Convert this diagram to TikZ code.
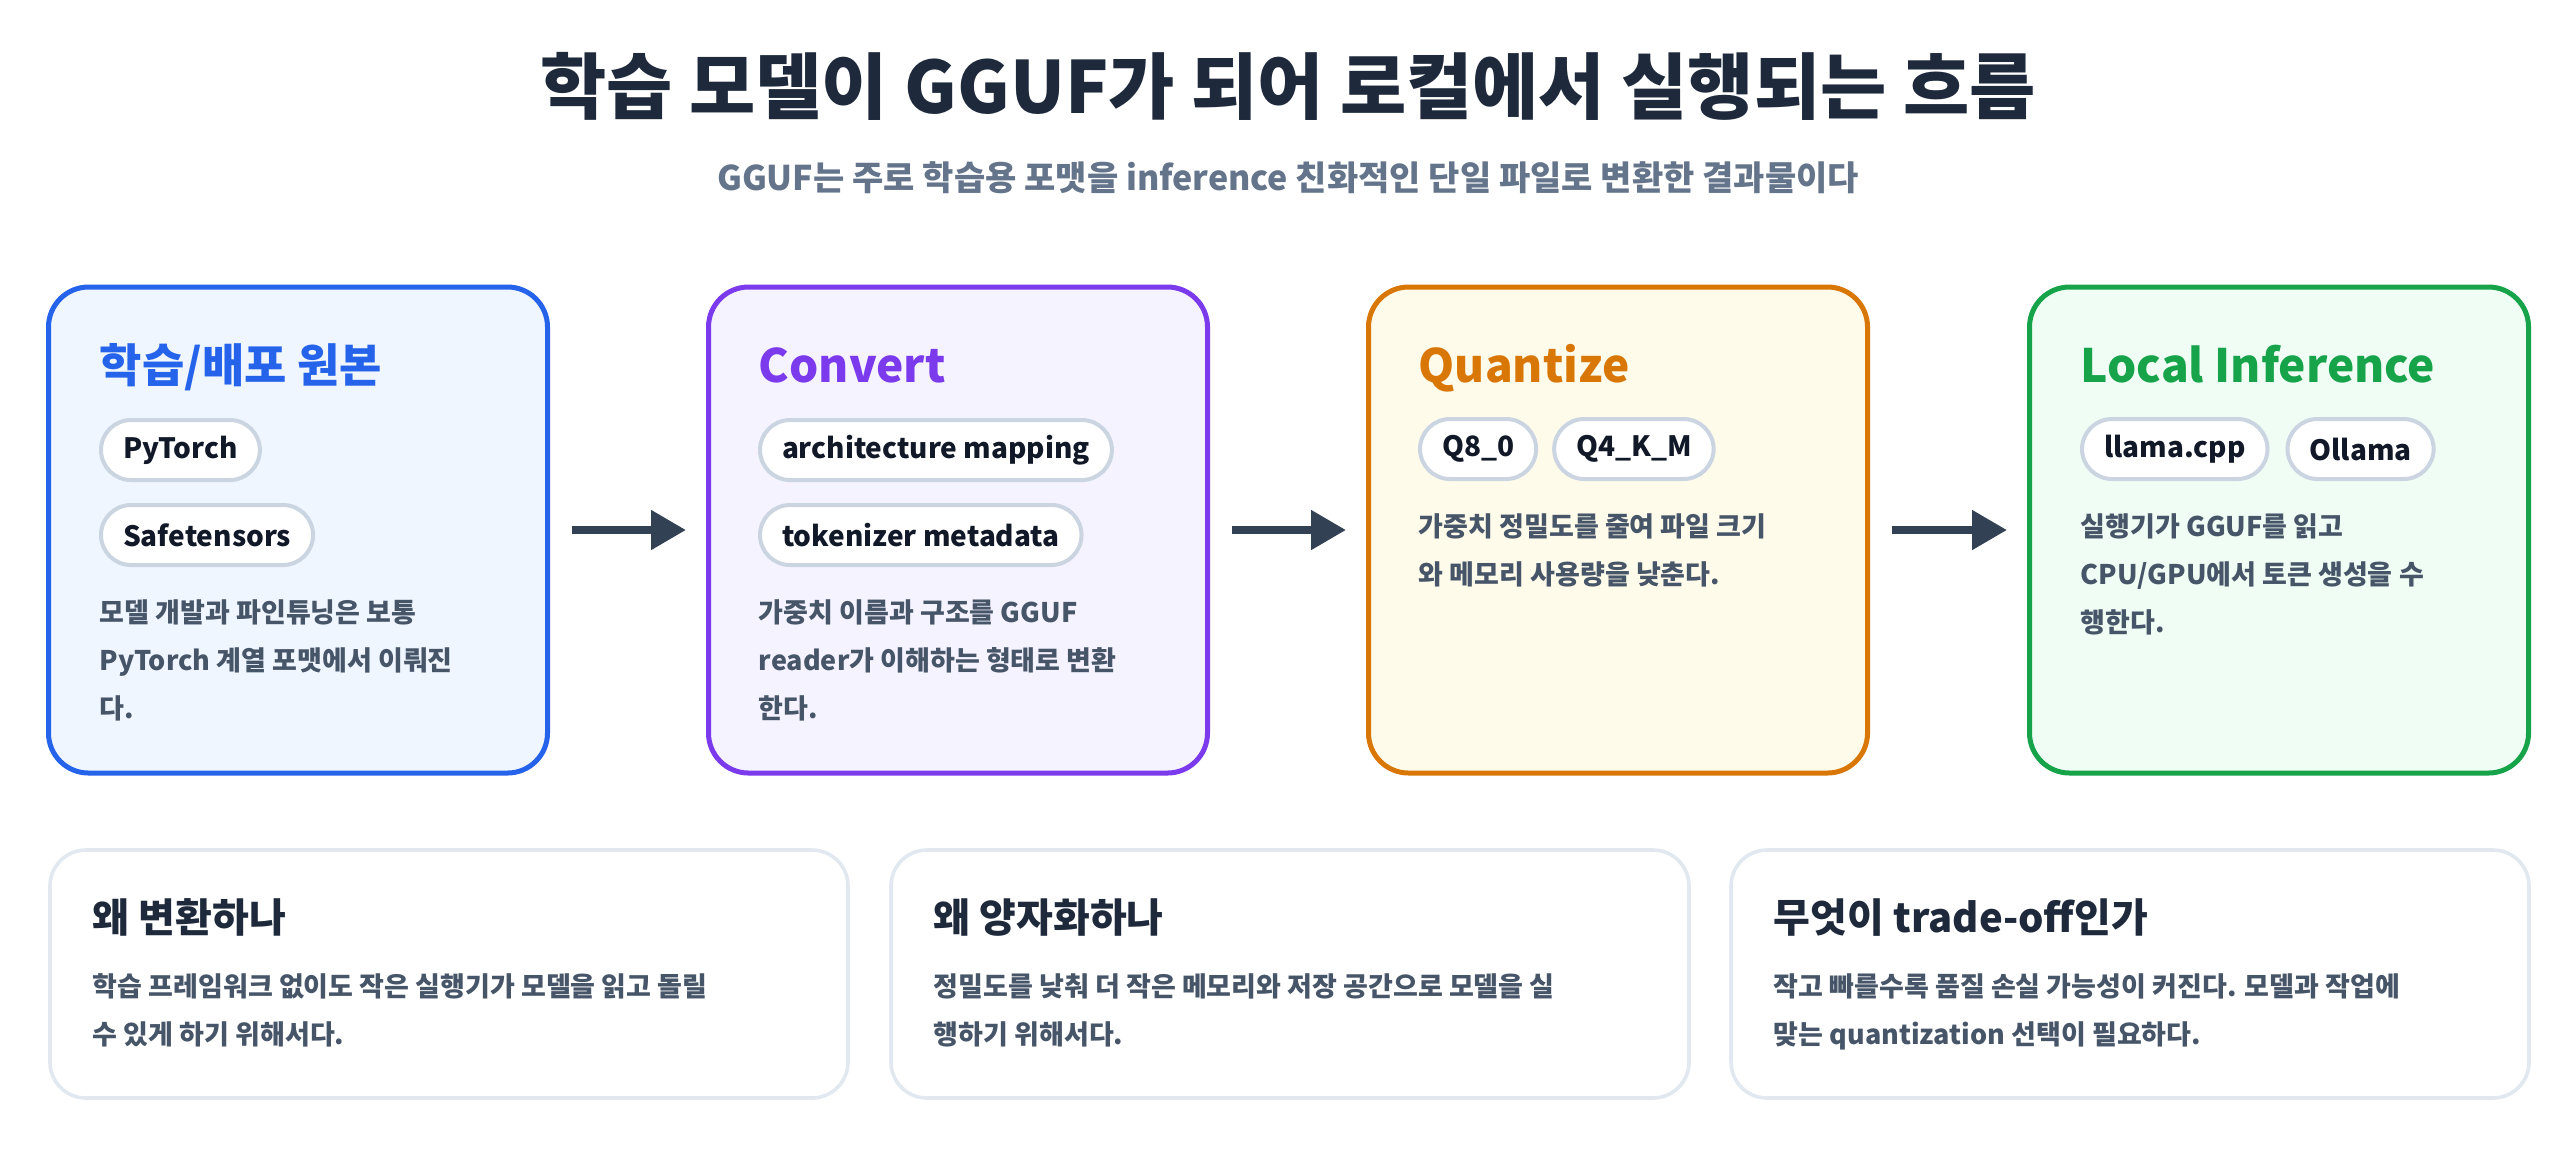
\documentclass[tikz,border=0pt]{standalone}
\usepackage{fontspec}
\setmainfont{Noto Sans CJK KR}
\usetikzlibrary{positioning}
\usetikzlibrary{arrows.meta}

\definecolor{heading}{HTML}{1E293B}
\definecolor{subtext}{HTML}{64748B}
\definecolor{bodytext}{HTML}{475569}
\definecolor{ink}{HTML}{111827}
\definecolor{pillline}{HTML}{CBD5E1}
\definecolor{cardline}{HTML}{E2E8F0}
\definecolor{arrowc}{HTML}{334155}
\definecolor{srcline}{HTML}{2563EB}
\definecolor{srcfill}{HTML}{EFF6FF}
\definecolor{convline}{HTML}{7C3AED}
\definecolor{convfill}{HTML}{F5F3FF}
\definecolor{quantline}{HTML}{D97706}
\definecolor{quantfill}{HTML}{FFFBEB}
\definecolor{inferline}{HTML}{16A34A}
\definecolor{inferfill}{HTML}{F0FDF4}

\tikzset{
  stage/.style 2 args={draw=#1, fill=#2, line width=1.25pt, rounded corners=10pt,
    minimum width=124.75pt, minimum height=121.5pt, inner sep=0pt},
  stagetitle/.style={anchor=base west, inner sep=0pt, text=#1,
    font=\fontsize{11.5}{14}\selectfont\bfseries},
  pill/.style={draw=pillline, fill=white, line width=1pt, rounded corners=7.5pt,
    minimum height=15pt, inner xsep=5.5pt, inner ysep=0pt, text=ink,
    font=\fontsize{7}{8}\selectfont\bfseries},
  note/.style={anchor=north west, inner sep=0pt, align=left, text=bodytext,
    font=\fontsize{6.75}{12}\selectfont\bfseries},
  flow/.style={draw=arrowc, line width=2pt, shorten <=5.5pt, shorten >=5pt,
    -{Triangle[length=8.75pt,width=9.5pt]}},
  card/.style={draw=cardline, fill=white, line width=0.9pt, rounded corners=9pt,
    minimum width=199.5pt, minimum height=62pt, inner sep=0pt},
  cardtitle/.style={anchor=base west, inner sep=0pt, text=heading,
    font=\fontsize{10}{12}\selectfont\bfseries},
}

\begin{document}
\begin{tikzpicture}[x=0.25pt,y=-0.25pt]

\fill[white] (0,0) rectangle (2576,1148);
\useasboundingbox (0,0) rectangle (2576,1148);

\node[anchor=base, inner sep=0pt, text=heading, font=\fontsize{18}{22}\selectfont\bfseries]
  (title) at (1288,113) {학습 모델이 GGUF가 되어 로컬에서 실행되는 흐름};
\node[anchor=base, inner sep=0pt, text=subtext, font=\fontsize{8.5}{10}\selectfont\bfseries]
  (subtitle) at (1288,190) {GGUF는 주로 학습용 포맷을 inference 친화적인 단일 파일로 변환한 결과물이다};

\node[stage={srcline}{srcfill}] (src) at (298,530) {};
\node[stage={convline}{convfill}] (conv) at (958,530) {};
\node[stage={quantline}{quantfill}] (quant) at (1618,530) {};
\node[stage={inferline}{inferfill}] (infer) at (2279,530) {};

\draw[flow] (src) -- (conv);
\draw[flow] (conv) -- (quant);
\draw[flow] (quant) -- (infer);

\node[stagetitle=srcline] (srcT) at (99,382) {학습/배포 원본};
\node[pill, anchor=west] (pytorch) at (99,450) {PyTorch};
\node[pill, anchor=west] (safet) at (99,535) {Safetensors};
\node[note] (srcN) at (99,588) {\strut 모델 개발과 파인튜닝은 보통\\PyTorch 계열 포맷에서 이뤄진\\다.};

\node[stagetitle=convline] (convT) at (758,382) {Convert};
\node[pill, anchor=west] (archmap) at (758,450) {architecture mapping};
\node[pill, anchor=west] (tokmeta) at (758,535) {tokenizer metadata};
\node[note] (convN) at (758,588) {\strut 가중치 이름과 구조를 GGUF\\reader가 이해하는 형태로 변환\\한다.};

\node[stagetitle=quantline] (quantT) at (1418,382) {Quantize};
\node[pill, anchor=west] (qeight) at (1418,449) {Q8\_0};
\node[pill, right=3.5pt of qeight] (qfour) {Q4\_K\_M};
\node[note] (quantN) at (1418,502) {\strut 가중치 정밀도를 줄여 파일 크기\\와 메모리 사용량을 낮춘다.};

\node[stagetitle=inferline] (inferT) at (2080,382) {Local Inference};
\node[pill, anchor=west] (llamacpp) at (2080,449) {llama.cpp};
\node[pill, right=4pt of llamacpp] (ollama) {Ollama};
\node[note] (inferN) at (2080,502) {\strut 실행기가 GGUF를 읽고\\CPU/GPU에서 토큰 생성을 수\\행한다.};

\node[card] (whyconv) at (449,974) {};
\node[card] (whyquant) at (1290,974) {};
\node[card] (tradeoff) at (2130,974) {};

\node[cardtitle] (whyconvT) at (92,932) {왜 변환하나};
\node[note] (whyconvN) at (92,962) {\strut 학습 프레임워크 없이도 작은 실행기가 모델을 읽고 돌릴\\수 있게 하기 위해서다.};

\node[cardtitle] (whyquantT) at (933,932) {왜 양자화하나};
\node[note] (whyquantN) at (933,962) {\strut 정밀도를 낮춰 더 작은 메모리와 저장 공간으로 모델을 실\\행하기 위해서다.};

\node[cardtitle] (tradeoffT) at (1773,932) {무엇이 trade-off인가};
\node[note] (tradeoffN) at (1773,962) {\strut 작고 빠를수록 품질 손실 가능성이 커진다. 모델과 작업에\\맞는 quantization 선택이 필요하다.};

\end{tikzpicture}
\end{document}
